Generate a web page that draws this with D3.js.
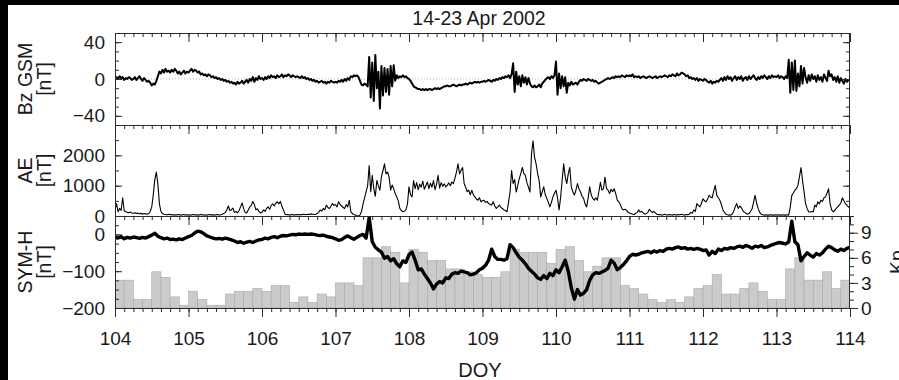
<!DOCTYPE html>
<html>
<head>
<meta charset="utf-8">
<script src="https://cdn.jsdelivr.net/npm/d3@7"></script>
<style>
  html, body { margin: 0; padding: 0; background: #fff; }
  svg { display: block; }
  text { font-family: "Liberation Sans", Arial, Helvetica, sans-serif; fill: #1a1a1a; }
</style>
</head>
<body>
<svg id="chart" width="899" height="380"></svg>
<script>
// ---- Data -------------------------------------------------------------
const title = "14-23 Apr 2002";
const doyTicks = [104, 105, 106, 107, 108, 109, 110, 111, 112, 113, 114];

// Bz GSM [nT], half-hourly from DOY 104.0
const bzStart = 104, bzStep = 1 / 48;
const bzValues = [
  1, 2, 0, 3, 1, 2, -1, 1, 0, 2, 1, -1,
  0, 2, -1, 1, 3, 0, -2, 1, -1, -3, -2, -4,
  -7, -5, -6, -2, 3, 8, 6, 10, 7, 11, 8, 9,
  7, 10, 8, 11, 9, 6, 8, 5, 7, 9, 6, 8,
  7, 9, 11, 8, 10, 9, 7, 8, 5, 6, 4, 5,
  3, 5, 4, 2, 3, 1, 2, 0, 1, -1, 0, -2,
  -1, -3, -2, -4, -3, -5, -4, -6, -3, -5, -4, -2,
  -5, -3, -1, -4, 0, -2, 2, -3, 1, -1, 3, 0,
  1, -1, 2, 0, 3, 1, 4, 2, 3, 1, 4, 2,
  3, 5, 2, 4, 3, 5, 4, 2, 4, 3, 2, 3,
  2, 1, 3, 1, 2, 0, 1, -1, 0, -2, -1, -3,
  -2, -4, -3, -2, -4, -3, -5, -3, -4, -2, -3, -4,
  -3, -4, -2, -3, -1, -3, 0, -2, 1, -1, 3, 2,
  4, 3, 4, 2, -2, -6, -7, -5, -6, -8, 24, -20,
  18, -24, 26, -10, 8, -32, 14, -18, 12, -14, 11, -17,
  14, -8, 15, -2, 4, 1, 3, 2, 4, 2, 3, 1,
  0, -2, -5, -8, -9, -10, -11, -11, -12, -11, -12, -11,
  -12, -11, -11, -12, -11, -10, -11, -10, -11, -10, -9, -8,
  -8, -7, -8, -8, -7, -6, -7, -8, -7, -6, -7, -6,
  -6, -5, -6, -5, -4, -5, -4, -3, -4, -3, -4, -3,
  -3, -2, -3, -2, -1, -2, -3, -1, -2, 0, -1, 1,
  0, 2, 1, 3, 2, 4, 1, 5, 17, -14, 8, -6,
  3, -8, 4, -4, 2, -6, 1, -5, -8, -9, -7, -9,
  -8, -6, -9, -5, -3, -1, 1, 2, 0, 3, 1, 4,
  19, -17, 6, -10, 3, -8, 2, -15, -4, -7, -3, -6,
  -5, -4, -6, -3, -1, -2, 0, -1, -2, 0, -1, -2,
  -1, -3, -2, -4, -5, -4, -3, -2, -1, 0, 1, 0,
  1, 2, 1, 3, 2, 3, 2, 4, 3, 2, 4, 3,
  4, 3, 5, 2, 3, 2, 3, 1, 2, 3, 2, 1,
  2, 3, 2, 1, 2, 3, 1, 2, 3, 2, 3, 4,
  3, 2, 4, 3, 5, 4, 3, 6, 4, 5, 7, 6,
  5, 3, 4, 1, 2, 0, 1, -1, 1, -2, 0, -1,
  -2, 0, -1, -3, -4, -2, -5, -3, -4, -2, -3, -1,
  1, -2, 2, -1, 3, 0, 2, -2, 1, 3, -1, 2,
  0, 3, -2, 1, 2, -1, 3, 0, 2, 4, 1, -1,
  2, 0, 3, 1, 4, 2, 0, 3, 1, 4, 2, 3,
  2, 4, 1, 3, 2, 0, 3, 1, 21, -15, 18, -12,
  20, -13, 6, -8, 14, -5, 12, 2, -4, 4, -2, 5,
  0, 3, -3, 4, -1, 2, -3, 5, 1, -2, 9, 3,
  5, -1, 2, -3, 3, -4, 1, -2, -5, 0, -3, -1,
  -2
];

// AE index [nT], half-hourly from DOY 104.0
const aeStart = 104, aeStep = 1 / 48;
const aeValues = [
  200, 410, 140, 250, 180, 600, 180, 140, 120, 110, 130, 100,
  90, 110, 80, 100, 70, 90, 60, 80, 70, 60, 80, 150,
  300, 700, 1200, 1450, 1050, 400, 150, 80, 60, 50, 40, 60,
  40, 50, 30, 40, 30, 50, 40, 30, 40, 50, 30, 40,
  30, 40, 30, 50, 40, 30, 40, 30, 50, 40, 30, 40,
  30, 40, 50, 30, 40, 30, 40, 50, 30, 40, 60, 80,
  120, 200, 330, 180, 200, 260, 120, 150, 100, 180, 300, 430,
  250, 120, 100, 200, 300, 350, 480, 380, 200, 240, 150, 100,
  120, 200, 150, 250, 300, 220, 350, 400, 330, 420, 470, 400,
  480, 320, 200, 60, 40, 50, 30, 40, 50, 30, 40, 50,
  40, 50, 40, 60, 50, 40, 60, 50, 70, 60, 50, 60,
  80, 120, 200, 160, 250, 200, 360, 280, 250, 320, 410, 350,
  380, 300, 470, 380, 330, 280, 250, 380, 300, 520, 150, 80,
  50, 30, 10, 0, 30, 150, 400, 600, 800, 1000, 1660, 800,
  1340, 900, 650, 1170, 1000, 850, 1300, 1500, 1720, 1390, 1450, 1280,
  850, 1020, 900, 740, 630, 500, 250, 180, 140, 160, 200, 400,
  960, 700, 630, 1170, 900, 1100, 870, 1050, 950, 1150, 880, 1000,
  1120, 900, 1080, 950, 1170, 870, 1050, 1340, 920, 1100, 980, 1060,
  960, 1020, 1090, 1000, 1120, 1070, 1250, 1450, 1720, 1390, 1500, 1600,
  1070, 950, 800, 850, 700, 850, 700, 630, 560, 520, 600, 470,
  500, 520, 450, 480, 410, 380, 360, 470, 330, 250, 300, 360,
  280, 250, 200, 180, 140, 450, 790, 1500, 1070, 1200, 790, 1000,
  1230, 1400, 1600, 1400, 1340, 1100, 950, 790, 2040, 2480, 1930, 1720,
  1400, 1170, 630, 800, 960, 700, 580, 450, 300, 450, 630, 750,
  850, 600, 200, 600, 1170, 1720, 1300, 1070, 1390, 1600, 960, 800,
  690, 850, 1070, 900, 790, 650, 580, 400, 300, 600, 960, 700,
  580, 520, 600, 520, 800, 1110, 850, 900, 1280, 900, 850, 740,
  880, 800, 900, 740, 520, 470, 380, 250, 200, 220, 200, 120,
  100, 80, 60, 50, 90, 120, 200, 130, 150, 100, 60, 80,
  120, 220, 160, 110, 150, 90, 60, 40, 50, 30, 40, 60,
  40, 30, 50, 40, 30, 50, 40, 30, 50, 40, 60, 40,
  30, 50, 40, 60, 120, 90, 200, 150, 410, 350, 300, 420,
  570, 500, 470, 560, 680, 620, 600, 820, 1010, 680, 600, 520,
  380, 200, 120, 60, 40, 30, 30, 60, 150, 300, 410, 250,
  330, 280, 180, 120, 90, 60, 80, 150, 230, 450, 680, 420,
  250, 120, 60, 40, 30, 40, 30, 30, 40, 30, 30, 40,
  30, 40, 30, 30, 40, 30, 30, 40, 30, 300, 680, 760,
  850, 900, 1010, 1300, 1600, 1170, 800, 400, 250, 140, 130, 150,
  140, 360, 300, 470, 400, 520, 480, 600, 630, 750, 900, 410,
  200, 140, 180, 250, 300, 360, 420, 600, 500, 410, 350, 300,
  250
];

// SYM-H [nT], hourly from DOY 104.0
const symhStart = 104, symhStep = 1 / 24;
const symhValues = [
  -8, -10, -6, -12, -8, -10, -7, -9, -11, -8, -10, -6,
  -2, 3, -5, -9, -12, -10, -14, -13, -15, -12, -14, -10,
  -6, -3, 4, 9, 7, 2, -4, -7, -10, -12, -11, -13,
  -10, -12, -15, -18, -22, -20, -24, -21, -19, -22, -18, -15,
  -14, -10, -12, -8, -6, -9, -5, -3, -4, -2, 0, -1,
  1, 0, 1, 0, 1, 0, -2, -3, -2, -5, -7, -9,
  -12, -16, -14, -8, -4, -9, -13, -8, -3, 0, -10, 46,
  -20, -35, -42, -48, -65, -60, -72, -66, -80, -88, -72, -76,
  -55, -48, -70, -96, -94, -108, -120, -132, -148, -135, -128, -132,
  -118, -120, -108, -104, -106, -100, -102, -104, -110, -108, -104, -96,
  -92, -84, -70, -40, -60, -68, -68, -70, -66, -28, -36, -50,
  -62, -70, -80, -92, -100, -108, -118, -122, -112, -120, -106, -112,
  -96, -104, -88, -70, -100, -145, -176, -150, -165, -160, -150, -125,
  -110, -104, -106, -102, -98, -92, -70, -78, -96, -90, -82, -72,
  -60, -54, -56, -54, -50, -48, -46, -50, -45, -48, -44, -46,
  -40, -38, -40, -36, -34, -38, -36, -40, -38, -41, -38, -40,
  -44, -42, -56, -46, -52, -40, -44, -38, -40, -36, -38, -34,
  -32, -35, -30, -33, -38, -32, -34, -30, -36, -34, -30, -27,
  -24, -22, -24, -26, -20, 36, -20, -28, -72, -60, -50, -56,
  -62, -52, -56, -50, -40, -32, -36, -42, -46, -40, -44, -38,
  -35
];

// Kp index, 3-hourly bins from DOY 104.0
const kpStart = 104, kpStep = 1 / 8;
const kpValues = [
  3.33, 3.33, 1, 1, 4.33, 3.67, 1.33, 0.33,
  2, 1, 0.33, 0.33, 1.67, 2, 2, 2.33,
  2, 2.67, 2.67, 0.67, 1.33, 0.67, 1.67, 1.33,
  3, 3, 2.67, 6, 6, 7.33, 6.67, 3,
  7, 6.67, 5.67, 5.67, 4.67, 4.67, 4.33, 4,
  3.67, 3.67, 4.33, 7, 6.67, 6.67, 6.67, 5.33,
  7, 7.33, 5.67, 4.33, 5, 6, 6, 2.67,
  2.33, 1.67, 1, 0.67, 1, 0.67, 1.33, 2.33,
  2.67, 4, 1.67, 1.67, 2.33, 3, 2, 1,
  1, 4.67, 6, 3.33, 3.33, 4.33, 2.33, 3.33
];

const bzTicks = [-40, 0, 40];
const aeTicks = [0, 1000, 2000];
const symhTicks = [-200, -100, 0];
const kpTicks = [0, 3, 6, 9];

// ---- Layout -----------------------------------------------------------
const svg = d3.select("#chart");
const left = 115, right = 850;
const panels = [
  { top: 33, bottom: 125 },
  { top: 125, bottom: 216 },
  { top: 216, bottom: 308 }
];
const ink = "#2a2a2a";

svg.append("rect").attr("width", 899).attr("height", 380).attr("fill", "#fff");

const x = d3.scaleLinear().domain([104, 114]).range([left, right]);
const yBz = d3.scaleLinear().domain([-50, 50]).range([panels[0].bottom, panels[0].top]);
const yAe = d3.scaleLinear().domain([0, 3000]).range([panels[1].bottom, panels[1].top]);
const ySym = d3.scaleLinear().domain([-200, 50]).range([panels[2].bottom, panels[2].top]);
const yKp = d3.scaleLinear().domain([0, 11]).range([panels[2].bottom, panels[2].top]);

const series = (vals, start, step) => vals.map((v, i) => [start + i * step, v]);

// clip paths per panel
const defs = svg.append("defs");
panels.forEach((p, i) => {
  defs.append("clipPath").attr("id", "clip" + i)
    .append("rect").attr("x", left).attr("y", p.top)
    .attr("width", right - left).attr("height", p.bottom - p.top);
});

// ---- Panel 3 background: Kp bars -------------------------------------
svg.append("g").attr("clip-path", "url(#clip2)")
  .selectAll("rect").data(kpValues).join("rect")
  .attr("x", (d, i) => x(kpStart + i * kpStep))
  .attr("width", (d, i) => x(kpStart + (i + 1) * kpStep) - x(kpStart + i * kpStep))
  .attr("y", d => yKp(d))
  .attr("height", d => yKp(0) - yKp(d))
  .attr("fill", "#cbcbcb")
  .attr("stroke", "#a9a9a9")
  .attr("stroke-width", 0.6);

// ---- Zero reference in Bz panel ---------------------------------------
svg.append("line")
  .attr("x1", left).attr("x2", right)
  .attr("y1", yBz(0)).attr("y2", yBz(0))
  .attr("stroke", "#bdbdbd").attr("stroke-width", 1)
  .attr("stroke-dasharray", "1,2");

// ---- Lines ------------------------------------------------------------
const lineGen = (ys) => d3.line().x(d => x(d[0])).y(d => ys(d[1]));

svg.append("path").attr("clip-path", "url(#clip0)")
  .datum(series(bzValues, bzStart, bzStep))
  .attr("d", lineGen(yBz))
  .attr("fill", "none").attr("stroke", "#000")
  .attr("stroke-width", 2).attr("stroke-linejoin", "round");

svg.append("path").attr("clip-path", "url(#clip1)")
  .datum(series(aeValues, aeStart, aeStep))
  .attr("d", lineGen(yAe))
  .attr("fill", "none").attr("stroke", "#000")
  .attr("stroke-width", 1.1).attr("stroke-linejoin", "round");

svg.append("path").attr("clip-path", "url(#clip2)")
  .datum(series(symhValues, symhStart, symhStep))
  .attr("d", lineGen(ySym))
  .attr("fill", "none").attr("stroke", "#000")
  .attr("stroke-width", 3.4).attr("stroke-linejoin", "round");

// ---- Axes -------------------------------------------------------------
const minorX = d3.range(0, 81).map(i => 104 + i / 8);

function styleAxis(g) {
  g.select(".domain").remove();
  g.selectAll(".tick line").attr("stroke", ink).attr("stroke-width", 1);
  g.selectAll(".tick text")
    .attr("fill", "#1a1a1a")
    .style("font-size", "19px")
    .style("font-family", "'Liberation Sans', Arial, sans-serif");
}

// x ticks hanging down from each horizontal border
[panels[0].top, panels[1].top, panels[2].top, panels[2].bottom].forEach((yy, k) => {
  svg.append("g").attr("transform", `translate(0,${yy})`)
    .call(d3.axisBottom(x).tickValues(minorX).tickSize(4).tickFormat(""))
    .call(styleAxis);
  svg.append("g").attr("transform", `translate(0,${yy})`)
    .call(d3.axisBottom(x).tickValues(doyTicks).tickSize(9).tickPadding(15)
      .tickFormat(k === 3 ? d3.format("d") : ""))
    .call(styleAxis);
});

// left and right y axes for each panel
function yAxes(scale, majors, minors, withRight) {
  svg.append("g").attr("transform", `translate(${left},0)`)
    .call(d3.axisLeft(scale).tickValues(minors).tickSize(-4).tickFormat(""))
    .call(styleAxis);
  svg.append("g").attr("transform", `translate(${left},0)`)
    .call(d3.axisLeft(scale).tickValues(majors).tickSize(-7).tickPadding(10).tickFormat(d3.format("d")))
    .call(styleAxis);
  if (withRight) {
    svg.append("g").attr("transform", `translate(${right},0)`)
      .call(d3.axisRight(scale).tickValues(minors).tickSize(-4).tickFormat(""))
      .call(styleAxis);
    svg.append("g").attr("transform", `translate(${right},0)`)
      .call(d3.axisRight(scale).tickValues(majors).tickSize(-7).tickFormat(""))
      .call(styleAxis);
  }
}
yAxes(yBz, bzTicks, d3.range(-50, 51, 10), true);
yAxes(yAe, aeTicks, d3.range(0, 3001, 500), true);
yAxes(ySym, symhTicks, d3.range(-200, 51, 25), false);

// Kp axis on the right of panel 3
svg.append("g").attr("transform", `translate(${right},0)`)
  .call(d3.axisRight(yKp).tickValues(d3.range(0, 12, 1)).tickSize(4).tickFormat(""))
  .call(styleAxis);
svg.append("g").attr("transform", `translate(${right},0)`)
  .call(d3.axisRight(yKp).tickValues(kpTicks).tickSize(8).tickPadding(3).tickFormat(d3.format("d")))
  .call(styleAxis);

// panel frames
panels.forEach(p => {
  svg.append("rect")
    .attr("x", left + 0.5).attr("y", p.top + 0.5)
    .attr("width", right - left - 1).attr("height", p.bottom - p.top)
    .attr("fill", "none").attr("stroke", ink).attr("stroke-width", 1);
});

// ---- Labels -----------------------------------------------------------
svg.append("text").attr("x", 479).attr("y", 25)
  .attr("text-anchor", "middle").style("font-size", "19.5px").text(title);

svg.append("text").attr("x", 480).attr("y", 377)
  .attr("text-anchor", "middle").style("font-size", "20px").text("DOY");

const yLabels = [
  { lines: ["Bz GSM", "[nT]"], cy: (panels[0].top + panels[0].bottom) / 2 },
  { lines: ["AE", "[nT]"], cy: (panels[1].top + panels[1].bottom) / 2 },
  { lines: ["SYM-H", "[nT]"], cy: (panels[2].top + panels[2].bottom) / 2 }
];
yLabels.forEach(l => {
  l.lines.forEach((t, j) => {
    svg.append("text")
      .attr("transform", `translate(${32 + j * 19},${l.cy}) rotate(-90)`)
      .attr("text-anchor", "middle").style("font-size", "19.5px").text(t);
  });
});

// Kp axis title, running off the right edge of the figure
svg.append("text")
  .attr("transform", `translate(904,${(panels[2].top + panels[2].bottom) / 2}) rotate(-90)`)
  .attr("text-anchor", "middle").style("font-size", "19.5px").text("Kp");

// dark edges of the figure
svg.append("rect").attr("x", 0).attr("y", 0).attr("width", 899).attr("height", 5).attr("fill", "#000");
svg.append("rect").attr("x", 0).attr("y", 0).attr("width", 8).attr("height", 380).attr("fill", "#000");
</script>
</body>
</html>
